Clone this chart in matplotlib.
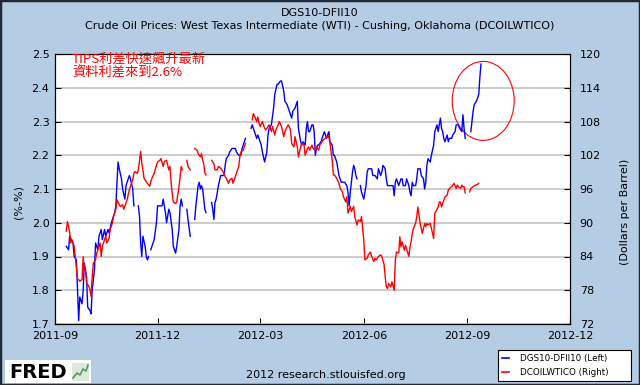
import numpy as np
import pandas as pd
import matplotlib
matplotlib.use('Agg')
import matplotlib.pyplot as plt
import matplotlib.dates as mdates
from matplotlib.patches import Ellipse, Rectangle
from matplotlib.lines import Line2D

# days after 2011-09-01; nan = holiday gap
start = pd.Timestamp('2011-09-01')
blue_days = [10, 12, 13, 16, 17, 19, 20, 21, 22, 24, 25, 26, 28, 29, 31, 32, 33, 35, 36, 38,
             39, 41, 42, 44, 45, 47, 48, 50, 51, 53, 54, 55, 56, 57, 59, 60, 62, 63, 65, 66,
             67, 69, 70, 71, 74, 75, 76, 77, 78, 80, 81, 82, 83, 84, 85, 88, 90, 91, 93, 95,
             96, 98, 99, 101, 102, 104, 105, 107, 108, 110, 111, 112, 113, 116, 117, 118, 120, 123, 124, 125,
             127, 128, 129, 130, 131, 132, 133, 134, 137, 139, 140, 141, 142, 143, 144, 145, 147, 148, 150, 151,
             152, 154, 155, 157, 158, 160, 161, 163, 165, 166, 168, 169, 172, 174, 175, 176, 178, 179, 180, 181,
             183, 184, 186, 188, 189, 190, 192, 194, 195, 197, 198, 200, 201, 203, 204, 206, 207, 209, 210, 211,
             213, 215, 216, 218, 219, 220, 222, 223, 224, 225, 226, 228, 229, 230, 231, 232, 233, 234, 236, 238,
             239, 240, 241, 243, 244, 246, 247, 248, 250, 251, 252, 254, 256, 257, 259, 260, 261, 262, 263, 264,
             265, 266, 267, 268, 270, 271, 272, 274, 275, 276, 277, 278, 280, 281, 282, 284, 286, 287, 289, 290,
             291, 293, 294, 295, 296, 298, 300, 301, 302, 303, 304, 305, 307, 308, 309, 311, 312, 314, 315, 316,
             317, 318, 320, 321, 322, 324, 325, 327, 328, 329, 330, 331, 333, 334, 336, 337, 339, 340, 342, 343,
             344, 345, 346, 348, 349, 350, 352, 353, 355, 356, 358, 359, 361, 362, 363, 364, 368, 369, 370, 371,
             372, 374, 375, 376, 377, 378]
blue_vals = [1.93, 1.92, 1.96, 1.94, 1.90, 1.89, 1.80, 1.71, 1.78, 1.76, 1.80, 1.88, 1.84, 1.75, 1.74, 1.73, 1.80, 1.86, 1.94, 1.92,
             1.96, 1.98, 1.95, 1.98, 1.96, 1.98, 1.97, 2.00, 2.01, 2.03, 2.05, 2.12, 2.18, 2.16, 2.13, 2.10, 2.07, 2.11, 2.13, 2.14,
             2.13, 2.10, 2.05, np.nan, 2.05, 2.02, 1.94, 1.90, 1.96, 1.93, 1.90, 1.89, 1.90, np.nan, 1.92, 1.95, 2.00, 2.05, 2.05, 2.05,
             2.07, 2.03, 2.00, 2.04, 2.03, 1.98, 1.93, 1.91, 1.93, 1.98, 2.05, 2.07, 2.05, np.nan, 2.04, 2.01, 1.96, np.nan, 2.01, 2.05,
             2.11, 2.12, 2.10, 2.11, 2.10, 2.07, 2.04, 2.03, np.nan, 2.06, 2.04, 2.01, 2.06, 2.07, 2.09, 2.11, 2.14, 2.14, 2.14, 2.17,
             2.19, 2.20, 2.21, 2.22, 2.22, 2.22, 2.21, 2.20, 2.20, 2.22, 2.24, 2.25, np.nan, 2.28, 2.29, 2.28, 2.26, 2.25, 2.26, 2.25,
             2.23, 2.21, 2.18, 2.21, 2.26, 2.28, 2.29, 2.34, 2.38, 2.41, 2.41, 2.42, 2.42, 2.39, 2.36, 2.35, 2.34, 2.32, 2.31, 2.33,
             2.34, 2.36, 2.28, 2.24, 2.23, 2.24, 2.23, 2.28, 2.30, 2.27, 2.27, 2.29, 2.29, 2.27, 2.20, 2.22, 2.23, 2.23, 2.24, 2.26,
             2.27, 2.26, 2.25, 2.27, 2.24, 2.23, 2.20, 2.20, 2.18, 2.16, 2.14, 2.12, 2.12, 2.12, 2.11, 2.09, 2.05, 2.09, 2.12, 2.15,
             2.17, 2.16, 2.14, 2.13, np.nan, 2.11, 2.09, 2.07, 2.09, 2.11, 2.15, 2.16, 2.16, 2.16, 2.14, 2.14, 2.13, 2.16, 2.14, 2.15,
             2.17, 2.16, 2.13, 2.11, 2.11, 2.11, 2.11, 2.08, 2.12, 2.13, 2.12, 2.11, 2.13, 2.13, 2.11, 2.11, 2.13, 2.11, 2.09, 2.08,
             2.12, 2.11, 2.11, 2.13, 2.16, 2.16, 2.14, 2.13, 2.10, 2.12, 2.17, 2.19, 2.18, 2.20, 2.23, 2.27, 2.29, 2.27, 2.31, 2.28,
             2.27, 2.25, 2.24, 2.26, 2.24, 2.25, 2.25, 2.26, 2.27, 2.29, 2.29, 2.28, 2.27, 2.32, 2.28, 2.25, np.nan, 2.27, 2.30, 2.33,
             2.35, 2.36, 2.37, 2.38, 2.43, 2.47]

red_days = [10, 11, 12, 13, 14, 15, 16, 17, 18, 20, 21, 22, 24, 25, 26, 27, 28, 30, 31, 32,
            33, 34, 36, 37, 39, 40, 41, 42, 44, 45, 46, 48, 49, 51, 52, 54, 55, 57, 58, 60,
            61, 63, 64, 66, 67, 69, 70, 71, 73, 74, 76, 77, 78, 79, 81, 82, 84, 85, 86, 88,
            90, 91, 93, 94, 96, 97, 99, 101, 102, 103, 104, 105, 107, 108, 110, 111, 112, 113, 116, 117,
            118, 120, 123, 124, 126, 127, 129, 130, 131, 132, 133, 134, 137, 139, 141, 142, 144, 145, 147, 148,
            150, 151, 152, 154, 155, 157, 158, 160, 161, 162, 163, 164, 165, 167, 169, 172, 175, 176, 178, 179,
            180, 181, 182, 184, 186, 187, 189, 190, 192, 193, 195, 196, 198, 199, 201, 203, 204, 206, 207, 209,
            210, 212, 213, 215, 216, 218, 219, 221, 222, 224, 225, 226, 228, 229, 231, 232, 234, 235, 237, 238,
            240, 241, 243, 244, 246, 247, 248, 250, 252, 253, 255, 256, 258, 259, 260, 262, 263, 265, 266, 268,
            269, 271, 272, 274, 275, 277, 278, 280, 281, 283, 284, 285, 287, 289, 290, 292, 293, 294, 295, 296,
            298, 299, 301, 302, 303, 305, 306, 307, 308, 310, 311, 314, 315, 316, 317, 318, 320, 321, 322, 323,
            324, 325, 326, 328, 329, 330, 331, 333, 334, 336, 337, 338, 340, 341, 342, 343, 345, 346, 348, 349,
            350, 352, 353, 354, 356, 357, 358, 360, 361, 362, 363, 364, 367, 368, 369, 371, 373, 374, 376]
red_vals = [88.5, 90.2, 89.4, 88.2, 86.4, 87.0, 86.4, 85.8, 84.0, 79.9, 79.9, 79.6, 79.9, 84.0, 81.6, 81.6, 79.3, 78.7, 78.1, 76.9,
            80.4, 82.8, 83.4, 84.6, 85.8, 86.4, 84.0, 85.8, 87.0, 87.6, 86.4, 87.3, 88.8, 90.0, 91.2, 92.4, 94.1, 93.2, 92.9, 93.2,
            92.4, 93.5, 94.1, 95.9, 96.5, 97.7, 98.8, 99.1, 98.8, 99.4, 102.7, 100.6, 99.4, 97.9, 97.3, 97.0, 96.5, 97.3, 97.9, 98.8,
            100.2, 100.8, 101.1, 101.4, 100.0, 100.9, 101.1, 99.4, 100.0, 97.2, 95.2, 93.7, 93.4, 93.7, 96.4, 98.2, 100.0, 99.4, np.nan, 101.1,
            100.0, 99.4, np.nan, 103.2, 102.9, 102.3, 101.7, 102.3, 101.1, 100.5, 98.8, 98.5, np.nan, 101.1, 100.5, 99.4, 99.4, 100.0, 99.7, 99.4,
            98.8, 98.2, 97.9, 97.0, 97.6, 97.9, 97.0, 98.2, 98.8, 99.4, 100.0, 101.7, 102.6, 102.9, 104.1, np.nan, 108.3, 109.4, 108.5, 107.9,
            108.8, 107.7, 107.1, 108.0, 106.8, 106.5, 107.1, 107.4, 106.2, 107.1, 105.6, 106.5, 107.4, 108.0, 107.1, 105.3, 106.2, 107.1, 107.4, 106.5,
            104.1, 103.5, 105.3, 103.5, 101.7, 103.5, 104.1, 103.8, 102.0, 103.2, 103.5, 102.9, 103.8, 103.2, 102.9, 103.5, 102.9, 103.8, 104.4, 104.7,
            105.0, 105.3, 105.3, 104.1, 101.1, 98.5, 98.5, 97.9, 97.0, 96.1, 95.5, 94.6, 93.7, 94.6, 91.7, 92.9, 92.0, 92.9, 91.1, 89.6,
            90.5, 90.2, 91.1, 86.9, 83.4, 83.7, 84.3, 84.8, 84.0, 83.1, 83.7, 83.4, 84.0, 84.3, 84.0, 82.6, 80.4, 78.6, 78.3, 79.2,
            78.6, 79.5, 78.0, 83.4, 84.8, 84.6, 87.5, 85.7, 86.6, 85.1, 86.0, 84.0, 85.7, 86.6, 88.1, 89.0, 89.9, 91.1, 92.8, 91.4,
            89.9, 89.0, 88.1, 89.9, 89.3, 89.9, 89.6, 89.9, 89.0, 87.2, 91.7, 92.0, 92.8, 93.7, 93.7, 92.8, 94.0, 94.6, 94.9, 95.8,
            96.1, 96.4, 96.7, 97.0, 96.1, 96.7, 96.4, 96.1, 96.7, 96.4, 96.4, 95.3, np.nan, 95.5, 96.1, 96.4, 96.7, 96.7, 97.0]

x_ticks = ['2011-09-01', '2011-12-01', '2012-03-01', '2012-06-01', '2012-09-01', '2012-12-01']

blue_dates = start + pd.to_timedelta(blue_days, unit='D')
red_dates = start + pd.to_timedelta(red_days, unit='D')

bg = '#B4CCE4'
fig = plt.figure(figsize=(6.4, 3.85), dpi=100, facecolor=bg)
ax = fig.add_axes([55/640, 1-324/385, 515/640, 270/385])
ax2 = ax.twinx()

ax.plot(blue_dates, blue_vals, color='#0000FF', lw=1.0)
ax2.plot(red_dates, red_vals, color='#FF0000', lw=1.0)

ax.set_xlim(start, pd.Timestamp('2012-12-01'))
ax.set_ylim(1.7, 2.5)
ax2.set_ylim(72, 120)
ax.set_yticks(np.arange(1.7, 2.51, 0.1))
ax.yaxis.set_major_formatter('{x:.1f}')
ax2.set_yticks(range(72, 121, 6))
ax.set_xticks(pd.to_datetime(x_ticks))
ax.xaxis.set_major_formatter(mdates.DateFormatter('%Y-%m'))
ax.grid(axis='y', color='#C8C8C8', lw=1.3)
ax.set_axisbelow(True)

ax.tick_params(axis='y', direction='in', length=4, labelsize=8, pad=4)
ax.tick_params(axis='x', direction='in', length=4, labelsize=8, pad=5)
ax2.tick_params(axis='y', direction='in', length=4, labelsize=8, pad=7)
for a in (ax, ax2):
    for s in a.spines.values():
        s.set_linewidth(0.8)

# circle around the latest jump
ax.add_patch(Ellipse((mdates.date2num(pd.Timestamp('2012-09-15')), 2.361), width=55, height=0.234,
                     fill=False, edgecolor='#FF0000', lw=0.8))

fig.text(72/640, 1-53/385, 'TIPS利差快速飆升最新\n資料利差來到2.6%', color='#FF0000', fontsize=9.5,
         family=['Noto Sans CJK TC', 'DejaVu Sans'], va='top', ha='left', linespacing=1.0)

fig.text(0.5, 1-13/385, 'DGS10-DFII10', ha='center', va='center', fontsize=8)
fig.text(0.5, 1-26/385, 'Crude Oil Prices: West Texas Intermediate (WTI) - Cushing, Oklahoma (DCOILWTICO)',
         ha='center', va='center', fontsize=8)
fig.text(18/640, 1-202/385, '(%-%)', rotation=90, ha='center', va='center', fontsize=8)
fig.text(625/640, 1-212/385, '(Dollars per Barrel)', rotation=90, ha='center', va='center', fontsize=8)
fig.text(326/640, 1-375/385, '2012 research.stlouisfed.org', ha='center', va='center', fontsize=8)

handles = [Line2D([], [], color='#0000FF', lw=1.2), Line2D([], [], color='#FF0000', lw=1.2)]
leg = fig.legend(handles, ['DGS10-DFII10 (Left)', 'DCOILWTICO (Right)'], loc='center',
                 bbox_to_anchor=(498/640, 1-382/385, 133/640, 33/385), mode='expand',
                 fontsize=6.3, handlelength=0.8, handletextpad=1.2, borderpad=0.5,
                 labelspacing=0.5, fancybox=False, framealpha=1, edgecolor='black', borderaxespad=0)
leg.get_frame().set_linewidth(0.8)

# FRED logo
fig.patches.append(Rectangle((5/640, 1-383/385), 86/640, 23/385, transform=fig.transFigure,
                             facecolor='white', edgecolor='none'))
fig.text(9/640, 1-372/385, 'FRED', fontsize=14, fontweight='bold', va='center', ha='left', color='black')
fig.patches.append(Rectangle((72/640, 1-381/385), 17/640, 18/385, transform=fig.transFigure,
                             facecolor='#DDE8DD', edgecolor='none'))
fig.lines.append(Line2D(np.array([73, 77, 80, 83, 86, 88]) / 640, 1 - np.array([378, 373, 375, 369, 371, 365]) / 385,
                        transform=fig.transFigure, color='#5A9A5A', lw=1.2))

fig.patches.append(Rectangle((0, 0), 1, 1, transform=fig.transFigure, fill=False,
                             edgecolor='#1E2A38', lw=2.5))

fig.savefig('out.png', dpi=100, facecolor=bg)
